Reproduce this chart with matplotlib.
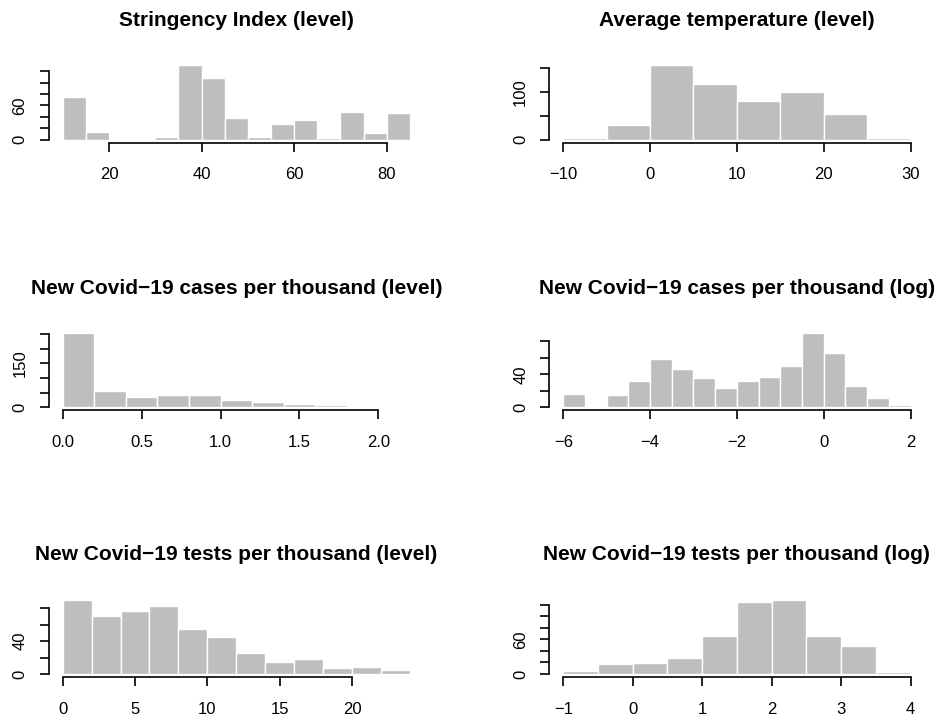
import matplotlib
matplotlib.use("Agg")
import matplotlib.pyplot as plt

plt.rcParams['font.family'] = ['Liberation Sans', 'DejaVu Sans']

# ---------------- data ----------------
titles = [
    "Stringency Index (level)",
    "Average temperature (level)",
    "New Covid\u221219 cases per thousand (level)",
    "New Covid\u221219 cases per thousand (log)",
    "New Covid\u221219 tests per thousand (level)",
    "New Covid\u221219 tests per thousand (log)",
]

stringency_breaks = [10, 15, 20, 25, 30, 35, 40, 45, 50, 55, 60, 65, 70, 75, 80, 85]
stringency_counts = [74, 13, 0, 0, 5, 130, 108, 37, 5, 27, 35, 3, 49, 11, 47]

temp_breaks = [-10, -5, 0, 5, 10, 15, 20, 25, 30]
temp_counts = [3, 31, 155, 116, 80, 99, 54, 4]

cases_breaks = [0.0, 0.2, 0.4, 0.6, 0.8, 1.0, 1.2, 1.4, 1.6, 1.8, 2.0, 2.2]
cases_counts = [253, 57, 37, 43, 43, 26, 19, 11, 9, 0, 0]

logcases_breaks = [-6, -5.5, -5, -4.5, -4, -3.5, -3, -2.5, -2, -1.5, -1, -0.5, 0, 0.5, 1, 1.5, 2]
logcases_counts = [16, 0, 15, 32, 59, 46, 36, 24, 32, 37, 50, 90, 66, 26, 11, 3]

tests_breaks = [0, 2, 4, 6, 8, 10, 12, 14, 16, 18, 20, 22, 24]
tests_counts = [90, 71, 76, 83, 55, 45, 25, 15, 18, 7, 9, 5]

logtests_breaks = [-1, -0.5, 0, 0.5, 1, 1.5, 2, 2.5, 3, 3.5, 4]
logtests_counts = [5, 17, 19, 28, 66, 125, 128, 66, 49, 3]

xticks = [
    [20, 40, 60, 80],
    [-10, 0, 10, 20, 30],
    [0.0, 0.5, 1.0, 1.5, 2.0],
    [-6, -4, -2, 0, 2],
    [0, 5, 10, 15, 20],
    [-1, 0, 1, 2, 3, 4],
]
xticklabels = [
    ["20", "40", "60", "80"],
    ["\u221210", "0", "10", "20", "30"],
    ["0.0", "0.5", "1.0", "1.5", "2.0"],
    ["\u22126", "\u22124", "\u22122", "0", "2"],
    ["0", "5", "10", "15", "20"],
    ["\u22121", "0", "1", "2", "3", "4"],
]
yticks = [
    [0, 20, 40, 60, 80, 100, 120],
    [0, 50, 100, 150],
    [0, 50, 100, 150, 200, 250],
    [0, 20, 40, 60, 80],
    [0, 20, 40, 60, 80],
    [0, 20, 40, 60, 80, 100, 120],
]
yticklabels = [
    ["0", "", "", "60", "", "", ""],
    ["0", "", "100", ""],
    ["0", "", "", "150", "", ""],
    ["0", "", "40", "", ""],
    ["0", "", "40", "", ""],
    ["0", "", "", "60", "", "", ""],
]

breaks_all = [stringency_breaks, temp_breaks, cases_breaks,
              logcases_breaks, tests_breaks, logtests_breaks]
counts_all = [stringency_counts, temp_counts, cases_counts,
              logcases_counts, tests_counts, logtests_counts]

# ---------------- layout ----------------
W, H = 941, 715
fig = plt.figure(figsize=(W / 100, H / 100), dpi=100)

col_left = [48.8, 549.4]
plot_w = 375.0
row_bottom = [142.5, 410.3, 677.0]
plot_h = 80.0

bar_color = "#BEBEBE"
lw = 1.2
tick_len = 6.8

for i in range(6):
    r, c = divmod(i, 2)
    left = col_left[c]
    bottom = row_bottom[r]
    ax = fig.add_axes([left / W, (H - bottom) / H, plot_w / W, plot_h / H])
    br = breaks_all[i]
    cnt = counts_all[i]
    widths = [br[k + 1] - br[k] for k in range(len(cnt))]
    ax.bar(br[:-1], cnt, width=widths, align='edge', color=bar_color,
           edgecolor='white', linewidth=1.0)
    xr = br[-1] - br[0]
    ax.set_xlim(br[0] - 0.04 * xr, br[-1] + 0.04 * xr)
    ymax = max(cnt)
    ax.set_ylim(-0.04 * ymax, 1.04 * ymax)

    for s in ['top', 'right']:
        ax.spines[s].set_visible(False)
    for s in ['left', 'bottom']:
        ax.spines[s].set_linewidth(lw)
    ax.spines['bottom'].set_bounds(xticks[i][0], xticks[i][-1])
    ax.spines['left'].set_bounds(yticks[i][0], yticks[i][-1])

    ax.set_xticks(xticks[i])
    ax.set_xticklabels(xticklabels[i])
    ax.set_yticks(yticks[i])
    ax.set_yticklabels(yticklabels[i], rotation=90, va='center')
    ax.tick_params(axis='x', direction='out', length=tick_len, width=lw,
                   pad=11.0, labelsize=12)
    ax.tick_params(axis='y', direction='out', length=tick_len, width=lw,
                   pad=8.5, labelsize=12)
    ax.set_facecolor('none')

    top_px = bottom - plot_h
    fig.text((left + plot_w / 2) / W, 1 - (top_px - 36.5) / H, titles[i],
             ha='center', va='baseline', fontsize=15, fontweight='bold')

fig.savefig("out.png", dpi=100)
